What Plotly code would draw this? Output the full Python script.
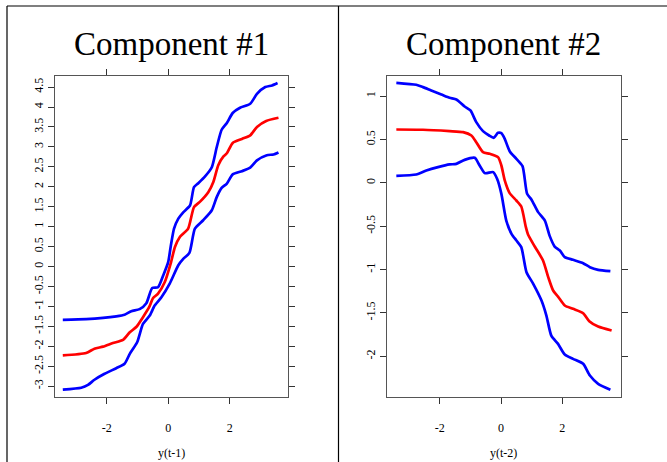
import plotly.graph_objects as go

W, H = 667, 462

# ---------------- Component #1 data ----------------
c1_up_x = [-3.43, -2.67, -2.12, -1.69, -1.42, -1.20, -0.93, -0.71, -0.52, -0.33, -0.16, 0.0, 0.08, 0.19, 0.33, 0.49, 0.71, 0.84, 0.98, 1.20, 1.42, 1.58, 1.74, 1.91, 2.10, 2.34, 2.67, 2.89, 3.16, 3.38, 3.56]
c1_up_y = [-1.336, -1.32, -1.29, -1.25, -1.21, -1.12, -1.07, -0.92, -0.54, -0.52, -0.22, 0.11, 0.49, 0.95, 1.20, 1.36, 1.53, 1.99, 2.09, 2.26, 2.49, 2.99, 3.43, 3.60, 3.85, 3.98, 4.08, 4.33, 4.50, 4.54, 4.60]

c1_mid_x = [-3.43, -2.67, -2.40, -2.12, -1.80, -1.47, -1.25, -1.03, -0.82, -0.62, -0.49, -0.33, -0.11, 0.08, 0.22, 0.38, 0.65, 0.84, 1.03, 1.31, 1.47, 1.63, 1.80, 1.91, 2.10, 2.40, 2.67, 2.89, 3.19, 3.59]
c1_mid_y = [-2.23, -2.17, -2.06, -2.01, -1.92, -1.84, -1.65, -1.51, -1.27, -1.02, -0.79, -0.68, -0.39, 0.07, 0.49, 0.74, 0.95, 1.49, 1.62, 1.87, 2.12, 2.54, 2.76, 2.84, 3.10, 3.20, 3.29, 3.50, 3.65, 3.73]

c1_lo_x = [-3.43, -2.83, -2.61, -2.40, -2.07, -1.69, -1.42, -1.25, -1.01, -0.82, -0.60, -0.44, -0.22, 0.05, 0.33, 0.49, 0.69, 0.87, 1.14, 1.42, 1.58, 1.74, 1.91, 2.10, 2.40, 2.67, 2.89, 3.21, 3.43, 3.59]
c1_lo_y = [-3.09, -3.04, -2.97, -2.84, -2.69, -2.55, -2.44, -2.19, -1.90, -1.44, -1.23, -0.98, -0.77, -0.43, 0.03, 0.19, 0.34, 0.95, 1.16, 1.41, 1.74, 1.97, 2.08, 2.31, 2.39, 2.48, 2.66, 2.79, 2.81, 2.86]

# ---------------- Component #2 data ----------------
c2_up_x = [-3.42, -2.77, -2.55, -2.28, -1.95, -1.68, -1.46, -1.19, -1.00, -0.81, -0.59, -0.39, -0.24, -0.10, 0.01, 0.12, 0.28, 0.50, 0.70, 0.85, 0.99, 1.21, 1.43, 1.59, 1.75, 1.92, 2.08, 2.35, 2.68, 2.90, 3.17, 3.57]
c2_up_y = [1.154, 1.131, 1.104, 1.065, 1.019, 0.981, 0.962, 0.881, 0.835, 0.70, 0.596, 0.546, 0.519, 0.577, 0.573, 0.508, 0.365, 0.277, 0.192, -0.127, -0.192, -0.338, -0.435, -0.615, -0.735, -0.781, -0.858, -0.888, -0.927, -0.973, -1.004, -1.019]

c2_mid_x = [-3.42, -2.55, -1.68, -1.24, -0.97, -0.81, -0.59, -0.37, -0.10, 0.01, 0.12, 0.28, 0.50, 0.66, 0.81, 0.88, 1.10, 1.37, 1.54, 1.70, 1.86, 2.08, 2.35, 2.68, 2.88, 3.17, 3.61]
c2_mid_y = [0.615, 0.612, 0.596, 0.585, 0.546, 0.469, 0.354, 0.335, 0.296, 0.20, 0.027, -0.119, -0.204, -0.273, -0.512, -0.596, -0.735, -0.896, -1.088, -1.242, -1.312, -1.415, -1.454, -1.504, -1.596, -1.658, -1.704]

c2_lo_x = [-3.42, -2.77, -2.44, -2.06, -1.68, -1.46, -1.19, -0.86, -0.70, -0.53, -0.26, -0.13, 0.01, 0.17, 0.34, 0.50, 0.66, 0.83, 1.05, 1.32, 1.48, 1.64, 1.86, 2.08, 2.35, 2.68, 2.90, 3.17, 3.57]
c2_lo_y = [0.081, 0.096, 0.142, 0.181, 0.212, 0.219, 0.265, 0.288, 0.20, 0.112, 0.123, 0.046, -0.127, -0.435, -0.588, -0.665, -0.742, -1.031, -1.165, -1.358, -1.531, -1.762, -1.858, -1.981, -2.031, -2.088, -2.223, -2.319, -2.388]

# ---------------- ticks / labels ----------------
x_ticks = [-2, 0, 2]
x_ticktext = ["-2", "0", "2"]
y1_ticks = [-3, -2.5, -2, -1.5, -1, -0.5, 0, 0.5, 1, 1.5, 2, 2.5, 3, 3.5, 4, 4.5]
y1_ticktext = ["-3", "-2.5", "-2", "-1.5", "-1", "-0.5", "0", "0.5", "1", "1.5", "2", "2.5", "3", "3.5", "4", "4.5"]
y2_ticks = [-2, -1.5, -1, -0.5, 0, 0.5, 1]
y2_ticktext = ["-2", "-1.5", "-1", "-0.5", "0", "0.5", "1"]
titles = ["Component #1", "Component #2"]
xlabels = ["y(t-1)", "y(t-2)"]

BLUE = "#0000FF"
RED = "#FF0000"
FONT = "Liberation Serif"

fig = go.Figure()

def add_line(x, y, color, xa, ya):
    fig.add_trace(go.Scatter(x=x, y=y, mode="lines", xaxis=xa, yaxis=ya,
                             line=dict(color=color, width=2.7, shape="spline", smoothing=0.6),
                             showlegend=False, hoverinfo="skip"))

add_line(c1_up_x, c1_up_y, BLUE, "x", "y")
add_line(c1_mid_x, c1_mid_y, RED, "x", "y")
add_line(c1_lo_x, c1_lo_y, BLUE, "x", "y")
add_line(c2_up_x, c2_up_y, BLUE, "x2", "y2")
add_line(c2_mid_x, c2_mid_y, RED, "x2", "y2")
add_line(c2_lo_x, c2_lo_y, BLUE, "x2", "y2")

def px_x(p):
    return p / W

def px_y(p):
    return 1 - p / H

top, bot = 75.5, 396.5
axis_common = dict(showline=True, mirror="ticks", linecolor="#555555", linewidth=1,
                   ticks="outside", ticklen=6, tickcolor="#333333", tickwidth=1,
                   showgrid=False, zeroline=False, tickmode="array",
                   tickfont=dict(family=FONT, size=12, color="black"), fixedrange=True)

fig.update_layout(
    width=W, height=H, margin=dict(l=0, r=0, t=0, b=0),
    paper_bgcolor="white", plot_bgcolor="white",
    xaxis=dict(domain=[px_x(54.5), px_x(288)], range=[-3.70, 3.90], anchor="y",
               tickvals=x_ticks, ticktext=x_ticktext, ticklabelstandoff=14, **axis_common),
    yaxis=dict(domain=[px_y(bot), px_y(top)], range=[-3.26, 4.79], anchor="x",
               tickvals=y1_ticks, ticktext=y1_ticktext, tickangle=-90, **axis_common),
    xaxis2=dict(domain=[px_x(387), px_x(620.5)], range=[-3.725, 3.90], anchor="y2",
                tickvals=x_ticks, ticktext=x_ticktext, ticklabelstandoff=14, **axis_common),
    yaxis2=dict(domain=[px_y(bot), px_y(top)], range=[-2.465, 1.238], anchor="x2",
                tickvals=y2_ticks, ticktext=y2_ticktext, tickangle=-90, **axis_common),
)

# titles & axis labels
for cx, t, xl in [((54.5 + 288) / 2, titles[0], xlabels[0]), ((387 + 620.5) / 2, titles[1], xlabels[1])]:
    fig.add_annotation(x=px_x(cx), y=px_y(44), xref="paper", yref="paper", text=t,
                       showarrow=False, xanchor="center", yanchor="middle",
                       font=dict(family=FONT, size=33, color="black"))
    fig.add_annotation(x=px_x(cx), y=px_y(453), xref="paper", yref="paper", text=xl,
                       showarrow=False, xanchor="center", yanchor="middle",
                       font=dict(family=FONT, size=12, color="black"))

# outer frame lines
for (x0, y0, x1, y1) in [(7, 6, 667, 6), (7, 6, 7, 462), (338.5, 6, 338.5, 462)]:
    fig.add_shape(type="line", xref="paper", yref="paper",
                  x0=px_x(x0), y0=px_y(y0), x1=px_x(x1), y1=px_y(y1),
                  line=dict(color="black", width=1.2))

fig.write_html("out.html")
